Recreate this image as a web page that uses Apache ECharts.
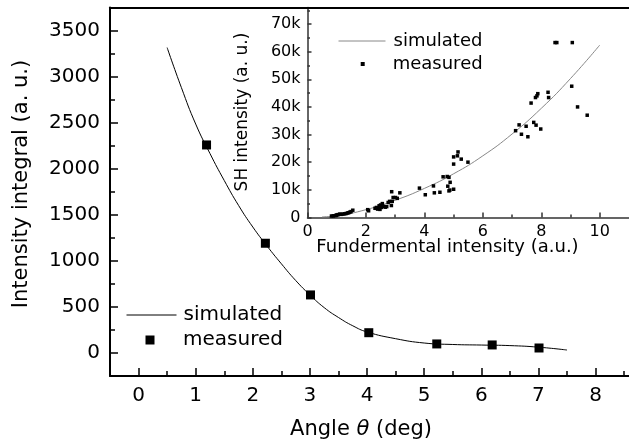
<!DOCTYPE html>
<html>
<head>
<meta charset="utf-8">
<script src="https://cdn.jsdelivr.net/npm/echarts@6/dist/echarts.min.js"></script>
<style>
html, body { margin: 0; background: #fff; }
#chart { width: 629px; height: 447px; }
</style>
</head>
<body>
<div id="chart"></div>
<script>
// main panel: integral vs angle
const angleSim = [0.5, 0.75, 1, 1.25, 1.5, 1.75, 2, 2.25, 2.5, 2.75, 3, 3.25, 3.5, 3.75, 4, 4.5, 5, 5.5, 6, 6.5, 7, 7.5];
const integralSim = [3315, 2880, 2485, 2165, 1872, 1602, 1367, 1160, 968, 787, 630, 492, 385, 295, 228, 155, 108, 92, 86, 80, 63, 32];
const angleMeas = [1.19, 2.22, 3.01, 4.03, 5.22, 6.19, 7.01];
const integralMeas = [2258, 1191, 630, 220, 98, 87, 54];

// inset: SH vs fundamental
const fundSim = [0.5, 1, 2, 3, 4, 5, 6, 7, 8, 9, 10];
const shSim = [200, 600, 2800, 6200, 10500, 15800, 22300, 30200, 39500, 50300, 62400];
const fundMeas = [0.82, 0.88, 0.93, 0.98, 1.01, 1.05, 1.10, 1.15, 1.21, 1.27, 1.32, 1.37, 1.41, 1.45, 1.49, 1.55,
  2.06, 2.09, 2.31, 2.36, 2.40, 2.43, 2.45, 2.48, 2.50, 2.53, 2.56, 2.60, 2.66, 2.71, 2.76, 2.81, 2.87, 2.90, 2.93, 2.88, 3.01, 3.07, 3.16,
  3.83, 4.03, 4.31, 4.34, 4.53, 4.64, 4.78, 4.84, 4.88, 4.80, 4.87, 4.84, 5.00,
  5.00, 5.00, 5.13, 5.15, 5.26, 5.49,
  7.12, 7.24, 7.32, 7.48, 7.54, 7.65, 7.74, 7.82, 7.98, 7.80, 7.85, 7.88, 8.23, 8.25,
  8.47, 8.53, 9.06, 9.04, 9.24, 9.57];
const shMeas = [500, 550, 600, 800, 900, 1000, 1200, 1100, 1200, 1300, 1400, 1600, 1700, 1900, 2100, 2600,
  2800, 2400, 3300, 3600, 3000, 3300, 4200, 2900, 4500, 3600, 5000, 4000, 3700, 3900, 5400, 5800, 4300, 5800, 7200, 9300, 7200, 6900, 8900,
  10600, 8200, 11400, 8900, 9100, 14700, 14800, 14500, 12700, 11300, 9900, 9600, 10200,
  19300, 21900, 22300, 23700, 21100, 20000,
  31400, 33500, 30100, 33000, 29200, 41400, 34400, 33400, 32000, 43400, 44000, 44800, 45300, 43400,
  63300, 63300, 63300, 47500, 40000, 37000];

// tick positions
const mainXTicks = [0, 1, 2, 3, 4, 5, 6, 7, 8];
const mainXMinor = [-0.5, 0.5, 1.5, 2.5, 3.5, 4.5, 5.5, 6.5, 7.5, 8.5];
const mainYTicks = [0, 500, 1000, 1500, 2000, 2500, 3000, 3500];
const mainYMinor = [-250, 250, 750, 1250, 1750, 2250, 2750, 3250, 3750];
const insetXTicks = [0, 2, 4, 6, 8, 10];
const insetXMinor = [1, 3, 5, 7, 9];
const insetYTicks = [0, 10000, 20000, 30000, 40000, 50000, 60000, 70000];
const insetYMinor = [5000, 15000, 25000, 35000, 45000, 55000, 65000, 75000];

const FONT = 'DejaVu Sans';
const zip = (a, b) => a.map((v, i) => [v, b[i]]);

function tickAxis(opts) {
    const base = {
        type: 'value',
        splitLine: { show: false },
        axisLine: { show: false, onZero: false },
        axisLabel: { show: false },
        axisTick: { show: false }
    };
    if (opts.axisLine) opts.axisLine.onZero = false;
    return Object.assign(base, opts);
}

// tick-only overlay axis
function ticks(gridIndex, min, max, values, length, color) {
    return tickAxis({
        gridIndex, min, max,
        axisTick: { show: true, inside: true, length, customValues: values, lineStyle: { color, width: 1.5 } }
    });
}

const mainRect = { left: 110, top: 7.5, right: -3, bottom: 71 };
const insetRect = { left: 307.5, top: 7.5, right: -4, bottom: 229.6 };

const chart = echarts.init(document.getElementById('chart'));
const option = {
    backgroundColor: '#fff',
    animation: false,
    grid: [
        Object.assign({}, mainRect),
        Object.assign({}, mainRect),
        Object.assign({}, mainRect),
        Object.assign({}, insetRect),
        Object.assign({}, insetRect),
        Object.assign({}, insetRect)
    ],
    xAxis: [
        tickAxis({
            gridIndex: 0, min: -0.5, max: 8.585,
            axisLine: { show: true, lineStyle: { color: '#000', width: 2 } },
            axisLabel: { show: true, customValues: mainXTicks, margin: 10, color: '#000', fontSize: 20, fontFamily: FONT, formatter: v => String(v) }
        }),
        ticks(1, -0.5, 8.585, mainXTicks, 8, '#000'),
        ticks(2, -0.5, 8.585, mainXMinor, 5, '#000'),
        tickAxis({
            gridIndex: 3, min: 0, max: 11,
            axisLine: { show: true, lineStyle: { color: '#333', width: 1.5 } },
            axisLabel: { show: true, customValues: insetXTicks, margin: 6, color: '#000', fontSize: 16, fontFamily: FONT, formatter: v => String(v) }
        }),
        ticks(4, 0, 11, insetXTicks, 5, '#333'),
        ticks(5, 0, 11, insetXMinor, 3, '#333'),
        // top frame line of the main panel
        tickAxis({
            gridIndex: 0, min: -0.5, max: 8.585, position: 'top',
            axisLine: { show: true, lineStyle: { color: '#000', width: 2 } }
        })
    ],
    yAxis: [
        tickAxis({
            gridIndex: 0, min: -250, max: 3750,
            axisLine: { show: true, lineStyle: { color: '#000', width: 2 } },
            axisLabel: { show: true, customValues: mainYTicks, margin: 10, color: '#000', fontSize: 20, fontFamily: FONT, formatter: v => String(v) }
        }),
        ticks(1, -250, 3750, mainYTicks, 8, '#000'),
        ticks(2, -250, 3750, mainYMinor, 5, '#000'),
        tickAxis({
            gridIndex: 3, min: 0, max: 76000,
            axisLine: { show: true, lineStyle: { color: '#333', width: 1.5 } },
            axisLabel: {
                show: true, customValues: insetYTicks, margin: 7, color: '#000', fontSize: 16, fontFamily: FONT,
                formatter: v => v === 0 ? '0' : (v / 1000) + 'k'
            }
        }),
        ticks(4, 0, 76000, insetYTicks, 4, '#333'),
        ticks(5, 0, 76000, insetYMinor, 2.5, '#333')
    ],
    legend: [
        {
            data: ['simulated'], left: 126, top: 305, padding: 0, itemWidth: 50, itemHeight: 14, selectedMode: false,
            itemStyle: { opacity: 0 }, lineStyle: { width: 1, color: '#000' },
            textStyle: { color: '#000', fontSize: 20, fontFamily: FONT, padding: [0, 0, 0, 2] }
        },
        {
            data: ['measured'], left: 145.5, top: 330, padding: 0, itemWidth: 9, itemHeight: 9, selectedMode: false,
            textStyle: { color: '#000', fontSize: 20, fontFamily: FONT, padding: [0, 0, 0, 23.5] }
        },
        {
            data: ['simulated '], left: 338, top: 32, padding: 0, itemWidth: 47, itemHeight: 14, selectedMode: false,
            itemStyle: { opacity: 0 }, lineStyle: { width: 1, color: '#888' },
            formatter: n => n.trim(),
            textStyle: { color: '#000', fontSize: 18, fontFamily: FONT, padding: [0, 0, 0, 3] }
        },
        {
            data: ['measured '], left: 360.7, top: 55, padding: 0, itemWidth: 4, itemHeight: 4, selectedMode: false,
            formatter: n => n.trim(),
            textStyle: { color: '#000', fontSize: 18, fontFamily: FONT, padding: [0, 0, 0, 23] }
        }
    ],
    graphic: [
        {
            type: 'text', x: 22, y: 184, rotation: Math.PI / 2,
            style: { text: 'Intensity integral (a. u.)', font: '21px "DejaVu Sans"', fill: '#000', align: 'center', verticalAlign: 'middle' }
        },
        {
            type: 'text', x: 361, y: 430,
            style: {
                text: '{a|Angle }{t|θ}{a| (deg)}', fill: '#000', align: 'center', verticalAlign: 'middle',
                rich: {
                    a: { fontSize: 21, fontFamily: FONT, fill: '#000' },
                    t: { fontSize: 21, fontFamily: FONT, fontStyle: 'italic', fill: '#000' }
                }
            }
        },
        {
            type: 'text', x: 447.5, y: 247, z: 10,
            style: { text: 'Fundermental intensity (a.u.)', font: '18px "DejaVu Sans"', fill: '#000', align: 'center', verticalAlign: 'middle' }
        },
        {
            type: 'text', x: 243, y: 112, rotation: Math.PI / 2, z: 10,
            style: { text: 'SH intensity (a. u.)', font: '17px "DejaVu Sans"', fill: '#000', align: 'center', verticalAlign: 'middle' }
        }
    ],
    series: [
        {
            name: 'simulated', type: 'line', xAxisIndex: 0, yAxisIndex: 0,
            data: zip(angleSim, integralSim), smooth: true, symbol: 'none',
            lineStyle: { color: '#000', width: 1 }, itemStyle: { color: '#000' }
        },
        {
            name: 'measured', type: 'scatter', xAxisIndex: 0, yAxisIndex: 0,
            data: zip(angleMeas, integralMeas), symbol: 'rect', symbolSize: 9,
            itemStyle: { color: '#000', opacity: 1 }
        },
        {
            name: 'simulated ', type: 'line', xAxisIndex: 3, yAxisIndex: 3, z: 5,
            data: zip(fundSim, shSim), smooth: true, symbol: 'none',
            lineStyle: { color: '#888', width: 1 }, itemStyle: { color: '#888' }
        },
        {
            name: 'measured ', type: 'scatter', xAxisIndex: 3, yAxisIndex: 3, z: 6,
            data: zip(fundMeas, shMeas), symbol: 'rect', symbolSize: 3.5,
            itemStyle: { color: '#000', opacity: 1 }
        }
    ]
};
chart.setOption(option);
window.addEventListener('resize', () => chart.resize());
</script>
</body>
</html>
